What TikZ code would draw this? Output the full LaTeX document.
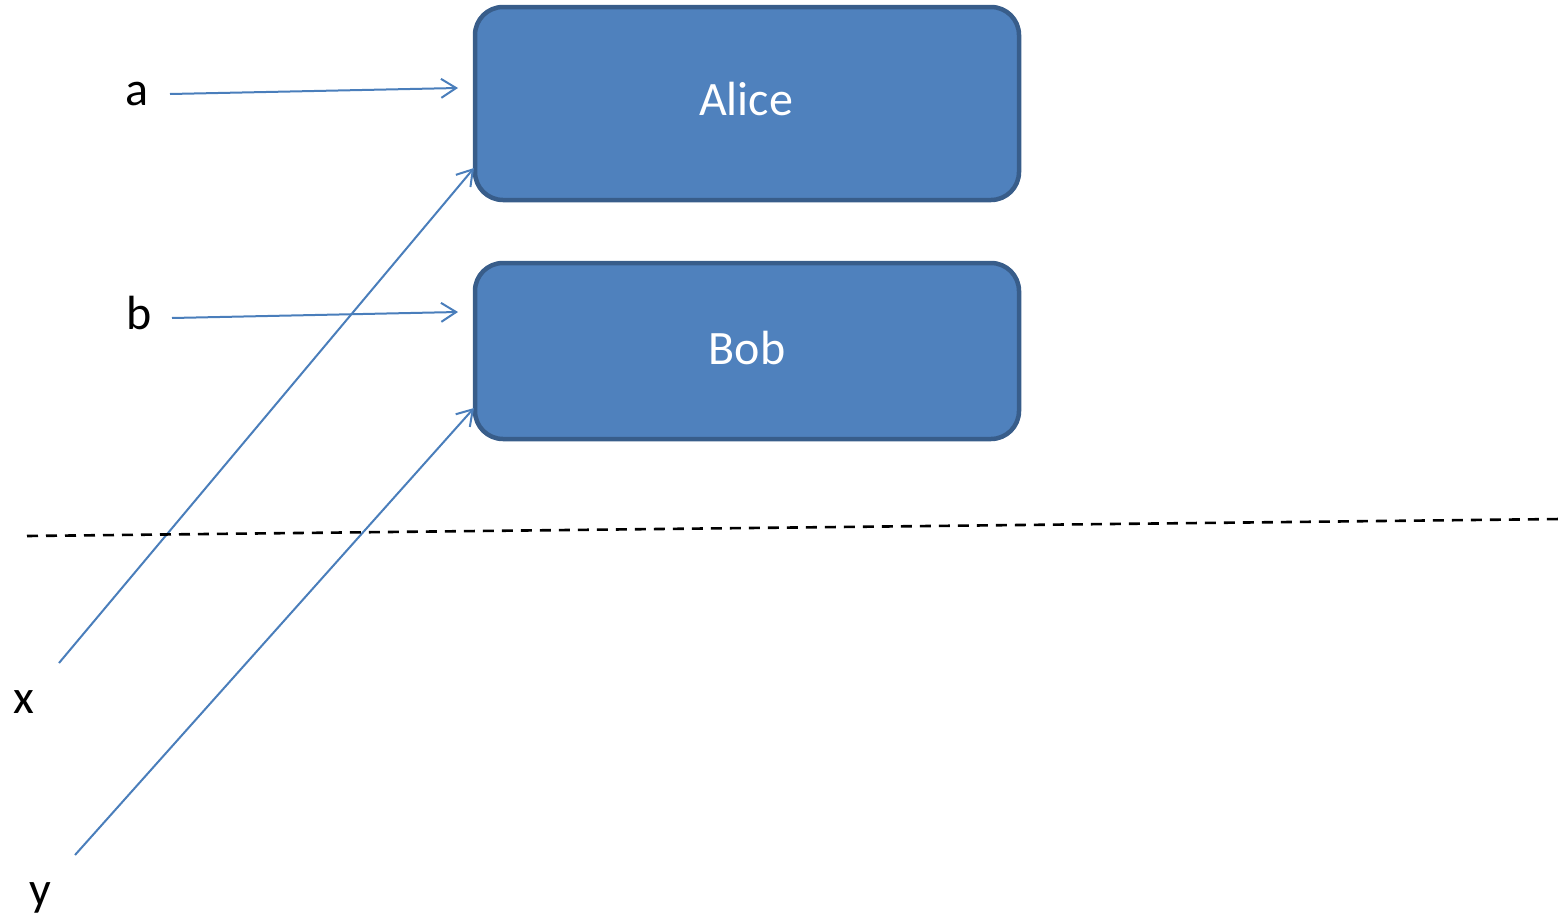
\documentclass[tikz,border=0pt]{standalone}
\usepackage{fontspec}
\setmainfont{Carlito}
\usetikzlibrary{arrows.meta}
\definecolor{boxfill}{HTML}{4F81BD}
\definecolor{boxline}{HTML}{385D8A}
\definecolor{arrowcol}{HTML}{4A7EBB}
\tikzset{
  box/.style={draw=boxline, fill=boxfill, line width=4.5pt, rounded corners=28pt, minimum width=544pt, inner sep=0pt},
  boxtext/.style={text=white, font=\fontsize{48}{54}\selectfont, inner sep=0pt},
  lbl/.style={text=black, font=\fontsize{48}{54}\selectfont, inner sep=0pt, anchor=base},
  conn/.style={draw=arrowcol, line width=2pt, -{Straight Barb[length=15pt,width=19pt,line width=2pt]}},
  sep/.style={draw=black, line width=2.6pt, dash pattern=on 11pt off 8pt}
}
\begin{document}
\begin{tikzpicture}[x=1pt,y=-1pt]
\useasboundingbox (0,0) rectangle (1561,921);
\node[box, minimum height=193pt] (alice) at (747,103.5) {};
\node[box, minimum height=176pt] (bob) at (747,351) {};
\node[boxtext] (alicetext) at (746,99) {Alice};
\node[boxtext] (bobtext) at (747,348) {Bob};
\node[lbl] (la) at (137,105) {a};
\node[lbl] (lb) at (139,329) {b};
\node[lbl] (lx) at (24,713) {x};
\node[lbl] (ly) at (40,905) {y};
\coordinate (as) at (170,94);
\coordinate (ae) at (458,88);
\coordinate (bs) at (172,318);
\coordinate (be) at (458,312);
\coordinate (xs) at (59,663);
\coordinate (xe) at (474,168);
\coordinate (ys) at (75,855);
\coordinate (ye) at (474,408);
\coordinate (ds) at (27,536);
\coordinate (de) at (1561,519);
\draw[conn] (as) -- (ae);
\draw[conn] (bs) -- (be);
\draw[conn] (xs) -- (xe);
\draw[conn] (ys) -- (ye);
\draw[sep] (ds) -- (de);
\end{tikzpicture}
\end{document}
